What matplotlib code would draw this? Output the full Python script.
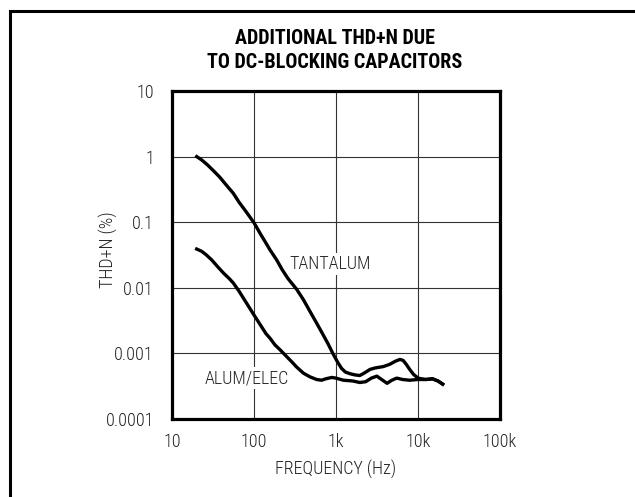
import matplotlib
matplotlib.use("Agg")
import matplotlib.pyplot as plt
from matplotlib import font_manager as fm
from matplotlib.patches import Rectangle

names = {f.name for f in fm.fontManager.ttflist}
FONT = 'Liberation Sans'
for cand in ['Roboto Condensed', 'Archivo Narrow', 'PT Sans Narrow',
             'IBM Plex Sans Condensed', 'Liberation Sans Narrow']:
    if cand in names:
        FONT = cand
        break

# ---- data ----
tant_f = [20, 23, 27, 32, 38, 45, 56, 66, 80, 100, 120, 140, 157, 189, 220, 260,
          331, 400, 480, 580, 700, 800, 915, 1050, 1170, 1300, 1480, 1700, 1950,
          2200, 2600, 3000, 3780, 4500, 5300, 6030, 6600, 7200, 8000, 8800, 10000,
          11000, 12500, 15000, 17500, 20000]
tant_v = [1.0, 0.89, 0.75, 0.61, 0.49, 0.38, 0.275, 0.2, 0.145, 0.098, 0.066,
          0.048, 0.0377, 0.0266, 0.019, 0.0138, 0.0095, 0.0066, 0.0044, 0.0029,
          0.0019, 0.0014, 0.001, 0.00073, 0.00059, 0.00052, 0.00049, 0.00047,
          0.00046, 0.0005, 0.00057, 0.0006, 0.00063, 0.00068, 0.00076, 0.00081,
          0.00078, 0.00068, 0.00056, 0.00048, 0.00042, 0.00041, 0.0004, 0.00041,
          0.00038, 0.00034]
alum_f = [20, 23, 26, 30.5, 36, 43, 50, 56, 66, 80, 100, 120, 140, 157, 180, 210,
          251, 290, 331, 400, 480, 580, 668, 750, 890, 1000, 1230, 1600, 1950,
          2300, 2700, 3150, 3600, 4200, 4800, 5500, 6500, 7900, 10000, 12500,
          15000, 17500, 20000]
alum_v = [0.039, 0.036, 0.032, 0.0266, 0.021, 0.0165, 0.0138, 0.0118, 0.0088,
          0.006, 0.00385, 0.0027, 0.002, 0.0017, 0.00135, 0.00112, 0.00089,
          0.00074, 0.00062, 0.0005, 0.00044, 0.0004, 0.00039, 0.00041, 0.00043,
          0.00042, 0.00039, 0.00038, 0.00036, 0.00037, 0.00042, 0.00045, 0.0004,
          0.00035, 0.00039, 0.00042, 0.0004, 0.00039, 0.0004, 0.0004, 0.00041,
          0.00038, 0.00034]

x_ticks = [10, 100, 1000, 10000, 100000]
x_labels = ['10', '100', '1k', '10k', '100k']
y_ticks = [0.0001, 0.001, 0.01, 0.1, 1, 10]
y_labels = ['0.0001', '0.001', '0.01', '0.1', '1', '10']

title = 'ADDITIONAL THD+N DUE\nTO DC-BLOCKING CAPACITORS'
xlabel = 'FREQUENCY (Hz)'
ylabel = 'THD+N (%)'

TXT = '#222222'
FS = 13

fig = plt.figure(figsize=(6.35, 4.97), dpi=100)
fig.patch.set_facecolor('white')

# outer frame (top and left edges visible)
fig.add_artist(Rectangle((9.5 / 635, -0.1), 1.2, 1.1 - 10.5 / 497,
                         transform=fig.transFigure, fill=False, lw=2.2,
                         edgecolor='black'))

ax = fig.add_axes([172 / 635, 1 - 419 / 497, 328 / 635, 328 / 497])
ax.set_xscale('log')
ax.set_yscale('log')
ax.set_xlim(10, 100000)
ax.set_ylim(0.0001, 10)

ax.plot(alum_f, alum_v, color='black', lw=2.4, solid_joinstyle='round', zorder=4)
ax.plot(tant_f, tant_v, color='black', lw=2.4, solid_joinstyle='round', zorder=4)

ax.set_xticks(x_ticks)
ax.set_xticklabels(x_labels)
ax.set_yticks(y_ticks)
ax.set_yticklabels(y_labels)
ax.minorticks_off()
ax.tick_params(length=0, labelsize=FS, colors=TXT)
ax.tick_params(axis='y', pad=13)
ax.tick_params(axis='x', pad=10)
for lab in ax.get_xticklabels() + ax.get_yticklabels():
    lab.set_fontfamily(FONT)
    lab.set_fontweight('light')

ax.grid(True, which='major', color='#333333', lw=0.8)
ax.set_axisbelow(True)
for s in ax.spines.values():
    s.set_linewidth(2.3)
    s.set_zorder(5)

ax.text(850, 0.023, 'TANTALUM', fontsize=FS, family=FONT, color=TXT,
        fontweight='light', ha='center', va='center', zorder=3,
        bbox=dict(facecolor='white', edgecolor='none', pad=1.5))
ax.text(82, 0.00042, 'ALUM/ELEC', fontsize=FS, family=FONT, color=TXT,
        fontweight='light', ha='center', va='center', zorder=3,
        bbox=dict(facecolor='white', edgecolor='none', pad=1.5))

fig.text(335 / 635, 1 - 50.5 / 497, title, fontsize=14.5, family=FONT,
         fontweight=900, ha='center', va='center', linespacing=1.32,
         color='black')
fig.text(336 / 635, 1 - 469 / 497, xlabel, fontsize=FS, family=FONT,
         fontweight='light', ha='center', va='center', color=TXT)
fig.text(108 / 635, 1 - 250 / 497, ylabel, fontsize=FS, family=FONT,
         fontweight='light', ha='center', va='center', rotation=90, color=TXT)

fig.savefig('out.png', dpi=100)
